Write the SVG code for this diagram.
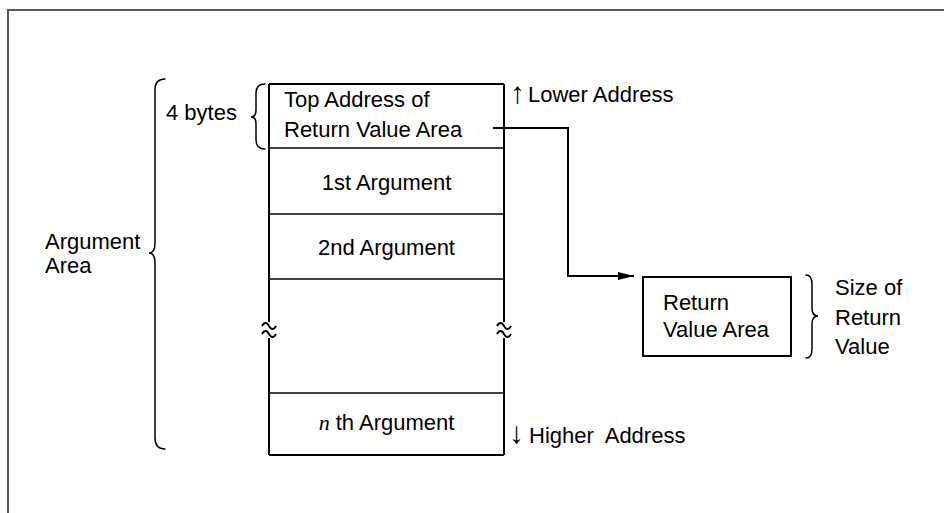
<svg xmlns="http://www.w3.org/2000/svg" width="944" height="513" viewBox="0 0 944 513">
<defs>
<style>
text{font-family:"Liberation Sans",Arial,sans-serif;font-size:22px;fill:#000}
.c{text-anchor:middle}
.arr{font-family:"Liberation Serif",serif;font-size:30px}
.box{fill:#fff;stroke:#000;stroke-width:2}
.row{stroke:#000;stroke-width:1.5;fill:none}
.side{stroke:#000;stroke-width:2;fill:none}
.tilde{stroke:#000;stroke-width:1.8;fill:none}
.brace{stroke:#000;stroke-width:1.5;fill:none;stroke-linecap:round}
.frame{stroke:#5a5a5a;stroke-width:2;fill:none}
.conn{stroke:#000;stroke-width:2;fill:none}
</style>
<marker id="ah" markerWidth="16" markerHeight="8" refX="16" refY="4" orient="auto" markerUnits="userSpaceOnUse">
<path d="M0,0 L16,4 L0,8 Z" fill="#000"/>
</marker>
</defs>
<rect width="944" height="513" fill="#fff"/>
<path class="frame" d="M8,513 V10 H944"/>

<g id="argument-area-label">
<text x="45" y="249">Argument</text>
<text x="45" y="273">Area</text>
<path class="brace" d="M165,79 Q155,79 155,90 L155,243 Q155,253 149,253 Q155,253 155,263 L155,438 Q155,449 165,449"/>
</g>

<g id="four-bytes-label">
<text x="166" y="120">4 bytes</text>
<path class="brace" d="M265,84 Q256,84 256,93 L256,110 Q256,117 251,117 Q256,117 256,124 L256,140 Q256,149 265,149"/>
</g>

<g id="stack">
<rect x="269" y="84" width="235" height="371" fill="#fff"/>
<path class="side" d="M269,84 H504 M269,455 H504"/>
<path class="side" d="M269,84 V322 M269,338 V455 M504,84 V322 M504,338 V455"/>
<path class="row" d="M269,148 H504 M269,214 H504 M269,279 H504 M269,393 H504"/>
<path class="tilde" d="M262,326 c2,-4 5,-4 7,0 s5,4 7,0 M262,334 c2,-4 5,-4 7,0 s5,4 7,0 M497,326 c2,-4 5,-4 7,0 s5,4 7,0 M497,334 c2,-4 5,-4 7,0 s5,4 7,0"/>
</g>

<g id="top-address">
<text x="284" y="107">Top Address of</text>
<text x="284" y="137">Return Value Area</text>
</g>
<g id="arg1"><text class="c" x="386.5" y="190">1st Argument</text></g>
<g id="arg2"><text class="c" x="386.5" y="255">2nd Argument</text></g>
<g id="argn"><text class="c" x="386.5" y="430"><tspan font-family="Liberation Serif, serif" font-style="italic">n</tspan> th Argument</text></g>

<g id="lower-address"><text x="510" y="103"><tspan class="arr">↑</tspan><tspan x="528" y="102">Lower Address</tspan></text></g>
<g id="higher-address"><text x="509" y="443"><tspan class="arr">↓</tspan><tspan x="529" y="443" word-spacing="6">Higher Address</tspan></text></g>

<g id="return-value-area">
<rect class="box" x="643" y="277" width="148" height="79"/>
<text x="663" y="310">Return</text>
<text x="663" y="337">Value Area</text>
</g>

<g id="size-label">
<path class="brace" d="M806,275 Q812,275 812,284 L812,308 Q812,316 818,316 Q812,316 812,324 L812,349 Q812,358 806,358"/>
<text x="835" y="295">Size of</text>
<text x="835" y="325">Return</text>
<text x="835" y="354">Value</text>
</g>

<g id="connectors">
<path class="conn" d="M493,128 H568 V276 H634" marker-end="url(#ah)"/>
</g>
</svg>
